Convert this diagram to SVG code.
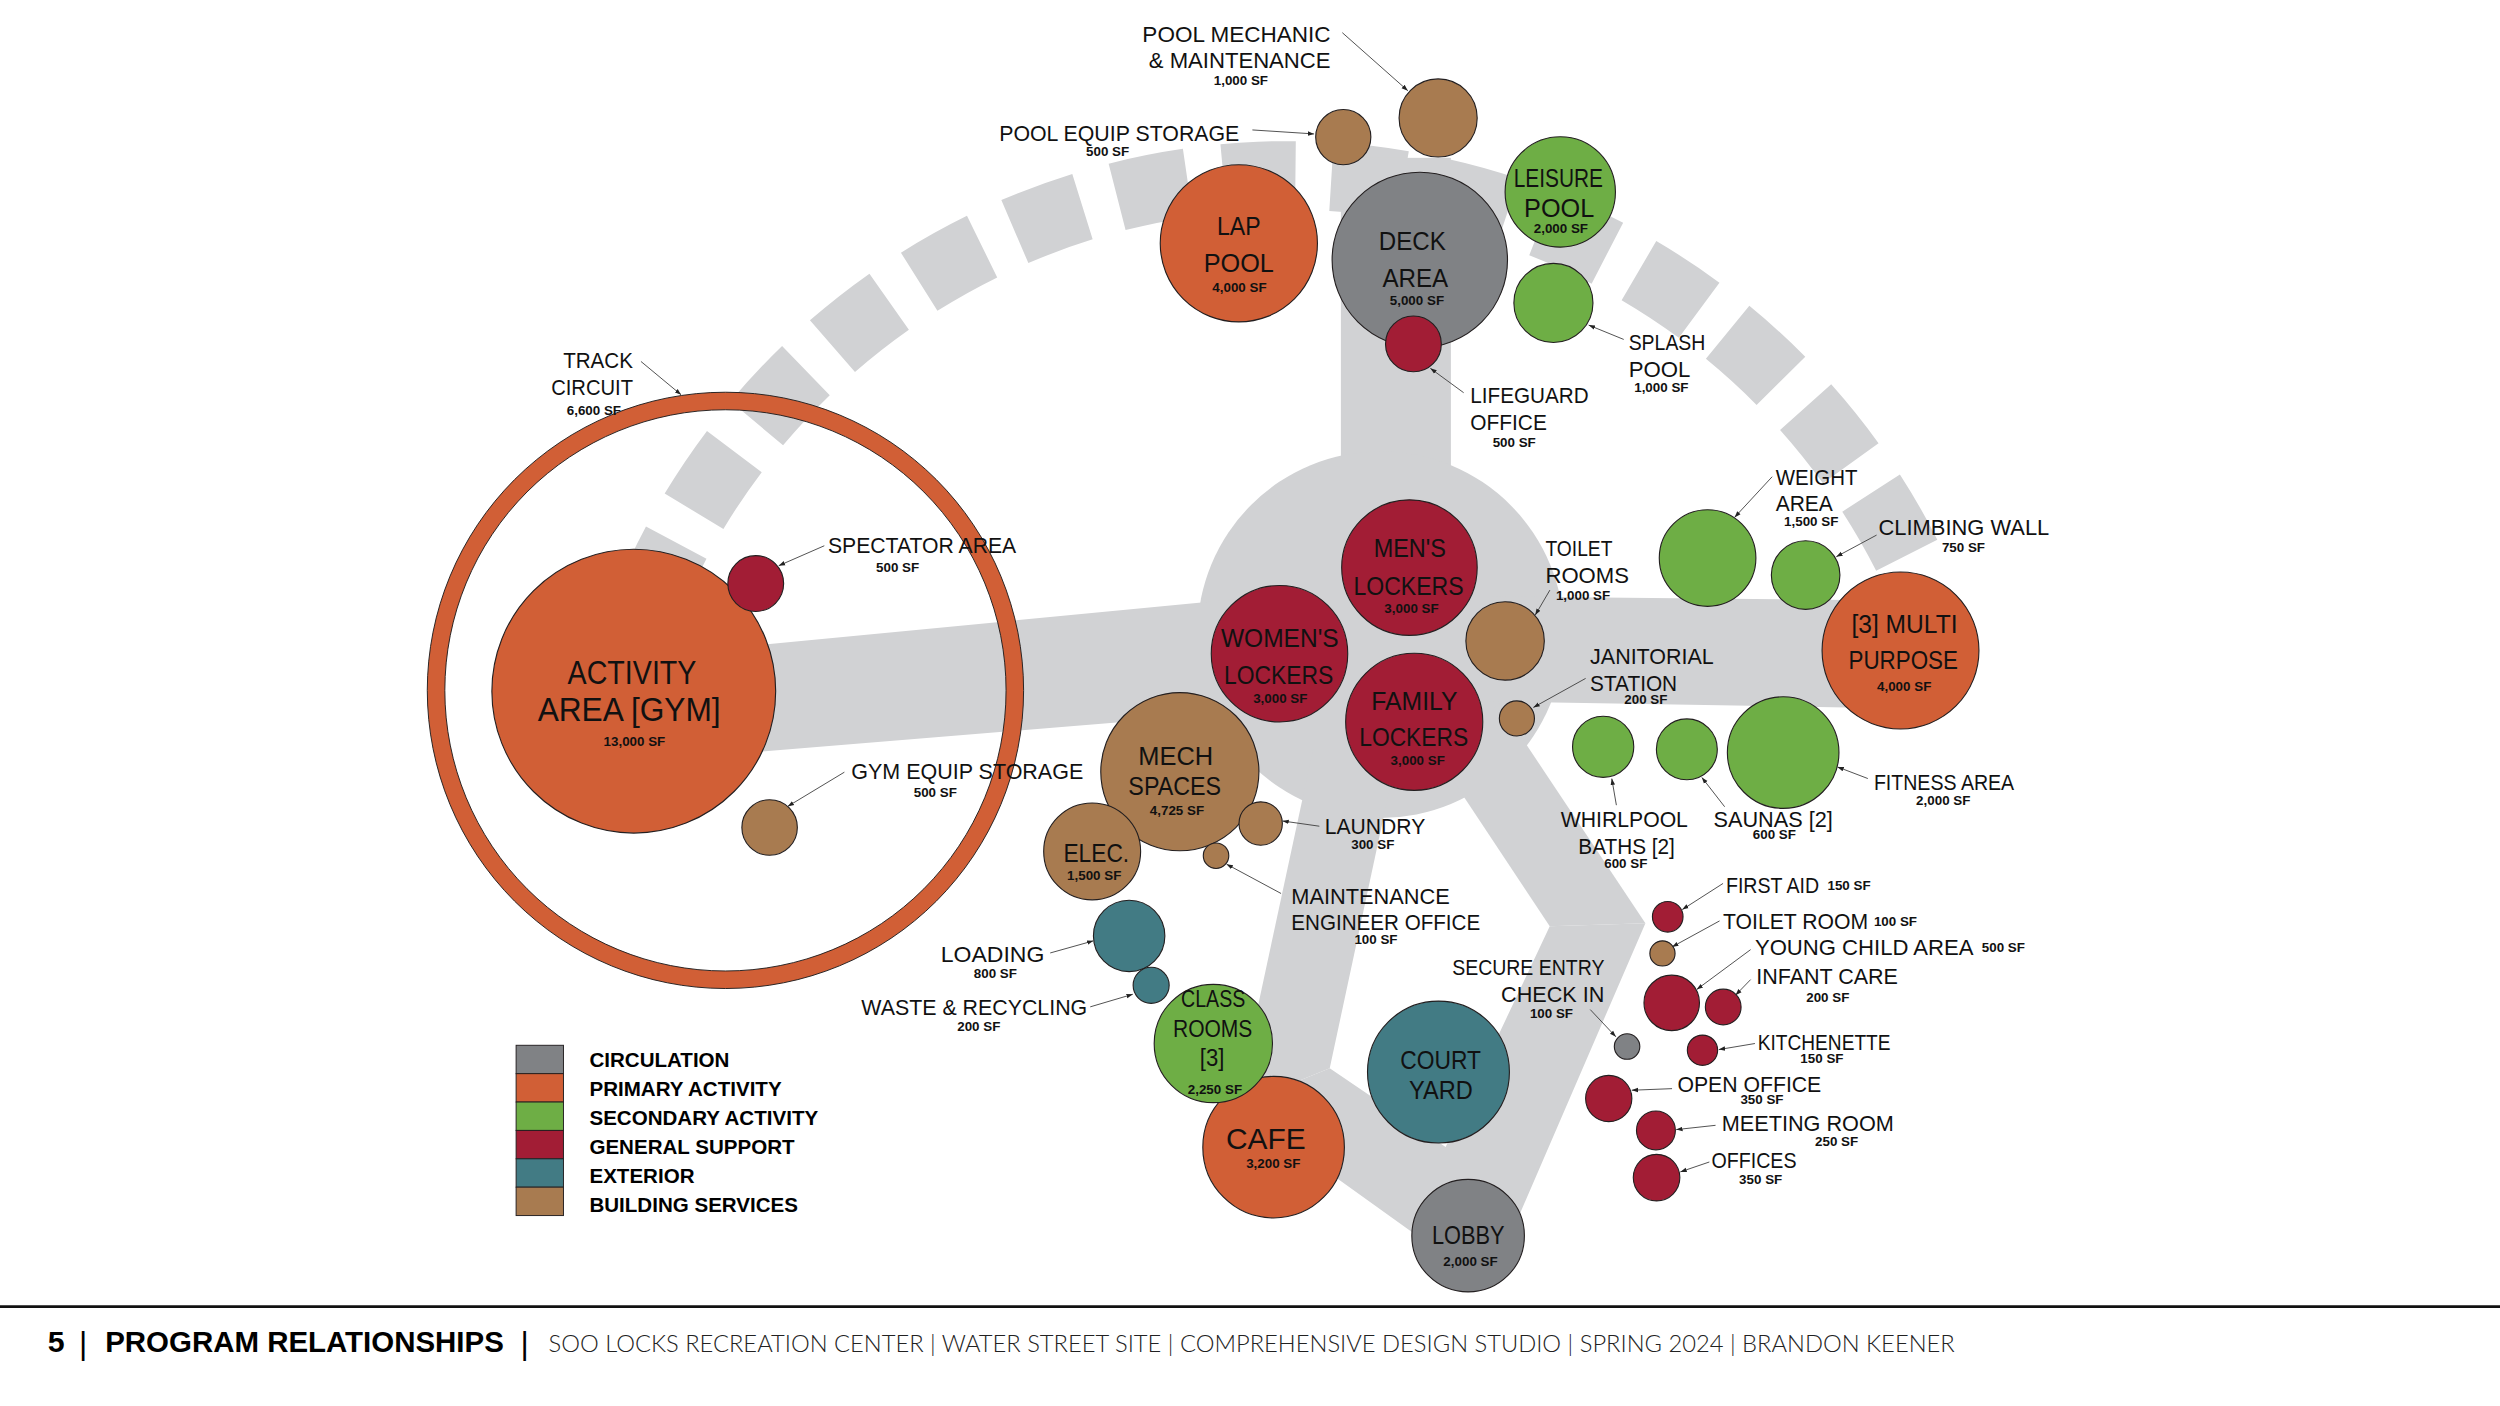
<svg xmlns="http://www.w3.org/2000/svg" width="2500" height="1406" viewBox="0 0 2500 1406">
<style>
.c{stroke:#231f20;stroke-width:0.7}
.circ{fill:#808285}.pri{fill:#d15f36}.sec{fill:#6eae45}.sup{fill:#a21d35}.ext{fill:#427b84}.svc{fill:#a87b50}
.gray{fill:#d1d2d4}
text{font-family:"Liberation Sans",Arial,sans-serif;fill:#111}
.in{font-size:16px;text-anchor:middle}
.sf{font-size:8.4px;font-weight:bold;text-anchor:middle}
.sfs{font-size:8.4px;font-weight:bold}
.lbl{font-size:13.8px}
.m{text-anchor:middle}.e{text-anchor:end}
.ld{stroke:#3a3a3a;stroke-width:0.55;fill:none;marker-end:url(#arr)}
.leg{font-size:12.9px;font-weight:bold;fill:#000}
.sw{stroke:#231f20;stroke-width:0.6}
</style>
<defs>
<marker id="arr" viewBox="0 0 10 10" refX="10" refY="5" markerWidth="4" markerHeight="4" markerUnits="userSpaceOnUse" orient="auto"><path d="M0,1.5 L10,5 L0,8.5 z" fill="#222"/></marker>
</defs>
<rect width="2500" height="1406" fill="#ffffff"/>
<g transform="scale(1.594388)">
<g id="circulation-paths">
<path d="M405 381.2 A435 435 0 0 1 1195.9 348.2" fill="none" stroke="#d1d2d4" stroke-width="43" stroke-dasharray="45.2 22.6"/>
<rect class="gray" x="841" y="99" width="69" height="220"/>
<circle class="gray" cx="866" cy="398" r="115"/>
<polygon class="gray" points="420,410 800,373.4 800,445 420,476"/>
<polygon class="gray" points="935,374 1175,376.5 1175,444 935,440"/>
<polygon class="gray" points="823.6,470 876.9,470 834,670 775.5,693.8"/>
<polygon class="gray" points="905,480 940,441 1032,579 972,581"/>
<polygon class="gray" points="834,670 906.7,719.4 972,581 1032,579 949.5,770 905,786.6 775.5,693.8"/>
</g>
<g id="track-circuit">
<path class="pri" fill-rule="evenodd" stroke="#231f20" stroke-width="0.6" d="M268 433 a187 187 0 1 0 374 0 a187 187 0 1 0 -374 0 Z M279 433 a176 176 0 1 0 352 0 a176 176 0 1 0 -352 0 Z"/>
<text class="lbl e" x="397" y="231.1" textLength="43.8" lengthAdjust="spacingAndGlyphs">TRACK</text>
<text class="lbl e" x="397" y="248" textLength="51.3" lengthAdjust="spacingAndGlyphs">CIRCUIT</text>
<text class="sf" x="372.5" y="260.4">6,600 SF</text>
</g>
<g id="activity-area">
<circle class="c pri" cx="397.5" cy="433.5" r="89"/>
<text class="in" style="font-size:20.5px" x="396.4" y="429.2" textLength="80.8" lengthAdjust="spacingAndGlyphs">ACTIVITY</text>
<text class="in" style="font-size:20.5px" x="394.6" y="452.3" textLength="114.8" lengthAdjust="spacingAndGlyphs">AREA [GYM]</text>
<text class="sf" x="397.9" y="468.2">13,000 SF</text>
</g>
<g id="spectator-area">
<circle class="c sup" cx="474" cy="366" r="17.5"/>
<text class="lbl" x="519.3" y="346.7" textLength="118.1" lengthAdjust="spacingAndGlyphs">SPECTATOR AREA</text>
<text class="sf" x="563" y="358.8">500 SF</text>
</g>
<g id="gym-equip-storage">
<circle class="c svc" cx="482.7" cy="519" r="17.4"/>
<text class="lbl" x="533.9" y="488.7" textLength="145.5" lengthAdjust="spacingAndGlyphs">GYM EQUIP STORAGE</text>
<text class="sf" x="586.6" y="499.7">500 SF</text>
</g>
<g id="lap-pool">
<circle class="c pri" cx="777" cy="152.6" r="49.3"/>
<text class="in" x="777" y="147.4" textLength="27.4" lengthAdjust="spacingAndGlyphs">LAP</text>
<text class="in" x="777" y="170.4" textLength="44" lengthAdjust="spacingAndGlyphs">POOL</text>
<text class="sf" x="777.4" y="183">4,000 SF</text>
</g>
<g id="deck-area">
<circle class="c circ" cx="890.5" cy="163" r="55"/>
<text class="in" x="885.8" y="156.8" textLength="42" lengthAdjust="spacingAndGlyphs">DECK</text>
<text class="in" x="887.7" y="179.8" textLength="41.3" lengthAdjust="spacingAndGlyphs">AREA</text>
<text class="sf" x="888.7" y="191.3">5,000 SF</text>
</g>
<g id="lifeguard-office">
<circle class="c sup" cx="886.5" cy="215.7" r="17.5"/>
<text class="lbl" x="922.2" y="253" textLength="74.2" lengthAdjust="spacingAndGlyphs">LIFEGUARD</text>
<text class="lbl" x="922.2" y="269.8" textLength="48" lengthAdjust="spacingAndGlyphs">OFFICE</text>
<text class="sf" x="949.7" y="280.6">500 SF</text>
</g>
<g id="leisure-pool">
<circle class="c sec" cx="978.6" cy="120.4" r="34.6"/>
<text class="in" x="977.4" y="117.1" textLength="56" lengthAdjust="spacingAndGlyphs">LEISURE</text>
<text class="in" x="977.9" y="135.9" textLength="44" lengthAdjust="spacingAndGlyphs">POOL</text>
<text class="sf" x="979" y="146.4">2,000 SF</text>
</g>
<g id="splash-pool">
<circle class="c sec" cx="974.3" cy="190" r="24.8"/>
<text class="lbl" x="1021.5" y="219.6" textLength="48.1" lengthAdjust="spacingAndGlyphs">SPLASH</text>
<text class="lbl" x="1021.5" y="236.3" textLength="38.7" lengthAdjust="spacingAndGlyphs">POOL</text>
<text class="sf" x="1042" y="245.7">1,000 SF</text>
</g>
<g id="pool-equip-storage">
<circle class="c svc" cx="842.5" cy="86" r="17.3"/>
<text class="lbl m" x="702" y="88.3" textLength="150.6" lengthAdjust="spacingAndGlyphs">POOL EQUIP STORAGE</text>
<text class="sf" x="694.7" y="97.7">500 SF</text>
</g>
<g id="pool-mechanic">
<circle class="c svc" cx="902" cy="74" r="24.5"/>
<text class="lbl e" x="834.5" y="26.1" textLength="118" lengthAdjust="spacingAndGlyphs">POOL MECHANIC</text>
<text class="lbl e" x="834.5" y="42.9" textLength="114" lengthAdjust="spacingAndGlyphs">&amp; MAINTENANCE</text>
<text class="sf" x="778.3" y="53.3">1,000 SF</text>
</g>
<g id="mens-lockers">
<circle class="c sup" cx="884" cy="356" r="42.5"/>
<text class="in" x="884.2" y="349.6" textLength="45.3" lengthAdjust="spacingAndGlyphs">MEN'S</text>
<text class="in" x="883.4" y="373.3" textLength="69.1" lengthAdjust="spacingAndGlyphs">LOCKERS</text>
<text class="sf" x="885.3" y="384.4">3,000 SF</text>
</g>
<g id="womens-lockers">
<circle class="c sup" cx="802.5" cy="410" r="42.8"/>
<text class="in" x="802.7" y="405.7" textLength="73.9" lengthAdjust="spacingAndGlyphs">WOMEN'S</text>
<text class="in" x="802" y="428.7" textLength="68.6" lengthAdjust="spacingAndGlyphs">LOCKERS</text>
<text class="sf" x="803" y="441.2">3,000 SF</text>
</g>
<g id="family-lockers">
<circle class="c sup" cx="887" cy="452.7" r="43"/>
<text class="in" x="887.1" y="445" textLength="54" lengthAdjust="spacingAndGlyphs">FAMILY</text>
<text class="in" x="886.7" y="468" textLength="68.4" lengthAdjust="spacingAndGlyphs">LOCKERS</text>
<text class="sf" x="889.2" y="479.5">3,000 SF</text>
</g>
<g id="toilet-rooms">
<circle class="c svc" cx="944" cy="402" r="24.6"/>
<text class="lbl" x="969.3" y="348.8" textLength="42" lengthAdjust="spacingAndGlyphs">TOILET</text>
<text class="lbl" x="969.3" y="365.5" textLength="52.4" lengthAdjust="spacingAndGlyphs">ROOMS</text>
<text class="sf" x="992.9" y="376.4">1,000 SF</text>
</g>
<g id="janitorial-station">
<circle class="c svc" cx="951.4" cy="450.6" r="11"/>
<text class="lbl" x="997.3" y="416.6" textLength="77.6" lengthAdjust="spacingAndGlyphs">JANITORIAL</text>
<text class="lbl" x="997.3" y="433.3" textLength="54.6" lengthAdjust="spacingAndGlyphs">STATION</text>
<text class="sf" x="1032.3" y="441.7">200 SF</text>
</g>
<g id="weight-area">
<circle class="c sec" cx="1071" cy="350" r="30.3"/>
<text class="lbl" x="1113.7" y="304.3" textLength="51.3" lengthAdjust="spacingAndGlyphs">WEIGHT</text>
<text class="lbl" x="1113.7" y="320.4" textLength="35.9" lengthAdjust="spacingAndGlyphs">AREA</text>
<text class="sf" x="1136" y="330">1,500 SF</text>
</g>
<g id="climbing-wall">
<circle class="c sec" cx="1132.5" cy="360.7" r="21.5"/>
<text class="lbl" x="1178.2" y="335.6" textLength="107.1" lengthAdjust="spacingAndGlyphs">CLIMBING WALL</text>
<text class="sf" x="1231.5" y="346.1">750 SF</text>
</g>
<g id="multi-purpose">
<circle class="c pri" cx="1192" cy="408" r="49.2"/>
<text class="in" x="1194.5" y="397.3" textLength="66.5" lengthAdjust="spacingAndGlyphs">[3] MULTI</text>
<text class="in" x="1193.7" y="419.3" textLength="68.7" lengthAdjust="spacingAndGlyphs">PURPOSE</text>
<text class="sf" x="1194.3" y="433.3">4,000 SF</text>
</g>
<g id="fitness-area">
<circle class="c sec" cx="1118.4" cy="472" r="35"/>
<text class="lbl" x="1175.3" y="495.6" textLength="88" lengthAdjust="spacingAndGlyphs">FITNESS AREA</text>
<text class="sf" x="1218.8" y="505">2,000 SF</text>
</g>
<g id="saunas">
<circle class="c sec" cx="1058" cy="470" r="19.1"/>
<text class="lbl" x="1074.7" y="518.6" textLength="74.8" lengthAdjust="spacingAndGlyphs">SAUNAS [2]</text>
<text class="sf" x="1112.9" y="526.5">600 SF</text>
</g>
<g id="whirlpool-baths">
<circle class="c sec" cx="1005.5" cy="468.4" r="19.2"/>
<text class="lbl m" x="1018.8" y="518.6" textLength="79.7" lengthAdjust="spacingAndGlyphs">WHIRLPOOL</text>
<text class="lbl m" x="1020.2" y="535.8" textLength="60.5" lengthAdjust="spacingAndGlyphs">BATHS [2]</text>
<text class="sf" x="1019.7" y="544.7">600 SF</text>
</g>
<g id="mech-spaces">
<circle class="c svc" cx="740" cy="484" r="49.6"/>
<text class="in" x="737.4" y="479.9" textLength="47" lengthAdjust="spacingAndGlyphs">MECH</text>
<text class="in" x="736.8" y="498.7" textLength="58.2" lengthAdjust="spacingAndGlyphs">SPACES</text>
<text class="sf" x="738.2" y="511.3">4,725 SF</text>
</g>
<g id="laundry">
<circle class="c svc" cx="790.7" cy="516.5" r="13.6"/>
<text class="lbl" x="830.9" y="522.8" textLength="63" lengthAdjust="spacingAndGlyphs">LAUNDRY</text>
<text class="sf" x="861" y="532.2">300 SF</text>
</g>
<g id="maintenance-engineer-office">
<circle class="c svc" cx="762.7" cy="536.7" r="8"/>
<text class="lbl" x="809.9" y="566.7" textLength="99.4" lengthAdjust="spacingAndGlyphs">MAINTENANCE</text>
<text class="lbl" x="809.9" y="583.4" textLength="118.5" lengthAdjust="spacingAndGlyphs">ENGINEER OFFICE</text>
<text class="sf" x="863" y="592.2">100 SF</text>
</g>
<g id="elec">
<circle class="c svc" cx="685" cy="534" r="30.4"/>
<text class="in" x="687.6" y="540.6" textLength="41.2" lengthAdjust="spacingAndGlyphs">ELEC.</text>
<text class="sf" x="686.3" y="552.1">1,500 SF</text>
</g>
<g id="loading">
<circle class="c ext" cx="708.2" cy="587" r="22.4"/>
<text class="lbl e" x="655" y="603.3" textLength="65" lengthAdjust="spacingAndGlyphs">LOADING</text>
<text class="sf" x="624.3" y="613.1">800 SF</text>
</g>
<g id="waste-recycling">
<circle class="c ext" cx="722" cy="618" r="11.3"/>
<text class="lbl e" x="681.9" y="636.8" textLength="141.7" lengthAdjust="spacingAndGlyphs">WASTE &amp; RECYCLING</text>
<text class="sf" x="613.9" y="646.6">200 SF</text>
</g>
<g id="cafe">
<circle class="c pri" cx="798.8" cy="719.5" r="44.4"/>
<text class="in" style="font-size:19px" x="793.9" y="720.7" textLength="50" lengthAdjust="spacingAndGlyphs">CAFE</text>
<text class="sf" x="798.6" y="732.5">3,200 SF</text>
</g>
<g id="class-rooms">
<circle class="c sec" cx="761" cy="654.5" r="37.1"/>
<text class="in" style="font-size:15px" x="760.9" y="631.5" textLength="40.3" lengthAdjust="spacingAndGlyphs">CLASS</text>
<text class="in" style="font-size:15px" x="760.6" y="650.4" textLength="49.8" lengthAdjust="spacingAndGlyphs">ROOMS</text>
<text class="in" style="font-size:15px" x="760.2" y="668.5" textLength="15.4" lengthAdjust="spacingAndGlyphs">[3]</text>
<text class="sf" x="762" y="685.9">2,250 SF</text>
</g>
<g id="court-yard">
<circle class="c ext" cx="902.2" cy="672.4" r="44.5"/>
<text class="in" x="903.6" y="670.2" textLength="50.6" lengthAdjust="spacingAndGlyphs">COURT</text>
<text class="in" x="903.8" y="689.1" textLength="40" lengthAdjust="spacingAndGlyphs">YARD</text>
</g>
<g id="lobby">
<circle class="c circ" cx="920.8" cy="775" r="35.3"/>
<text class="in" x="920.9" y="780.3" textLength="45.6" lengthAdjust="spacingAndGlyphs">LOBBY</text>
<text class="sf" x="922.3" y="794">2,000 SF</text>
</g>
<g id="secure-entry">
<circle class="c circ" cx="1020.5" cy="656.4" r="8"/>
<text class="lbl e" x="1006.3" y="611.7" textLength="95.5" lengthAdjust="spacingAndGlyphs">SECURE ENTRY</text>
<text class="lbl e" x="1006.3" y="628.4" textLength="64.8" lengthAdjust="spacingAndGlyphs">CHECK IN</text>
<text class="sf" x="973.1" y="638.8">100 SF</text>
</g>
<g id="first-aid">
<circle class="c sup" cx="1046" cy="575" r="9.6"/>
<text class="lbl" x="1082.5" y="560" textLength="58.5" lengthAdjust="spacingAndGlyphs">FIRST AID</text>
<text class="sfs" x="1146.2" y="557.9">150 SF</text>
</g>
<g id="toilet-room">
<circle class="c svc" cx="1042.7" cy="598" r="7.9"/>
<text class="lbl" x="1080.7" y="582.4" textLength="91" lengthAdjust="spacingAndGlyphs">TOILET ROOM</text>
<text class="sfs" x="1175.3" y="580.9">100 SF</text>
</g>
<g id="young-child-area">
<circle class="c sup" cx="1048.5" cy="629" r="17.4"/>
<text class="lbl" x="1100.7" y="599.1" textLength="137.1" lengthAdjust="spacingAndGlyphs">YOUNG CHILD AREA</text>
<text class="sfs" x="1243" y="597">500 SF</text>
</g>
<g id="infant-care">
<circle class="c sup" cx="1080.8" cy="631.6" r="11.2"/>
<text class="lbl" x="1101.5" y="617.3" textLength="88.9" lengthAdjust="spacingAndGlyphs">INFANT CARE</text>
<text class="sf" x="1146.4" y="628.4">200 SF</text>
</g>
<g id="kitchenette">
<circle class="c sup" cx="1067.8" cy="658.7" r="9.5"/>
<text class="lbl" x="1102.5" y="658.7" textLength="83.2" lengthAdjust="spacingAndGlyphs">KITCHENETTE</text>
<text class="sf" x="1142.7" y="666.7">150 SF</text>
</g>
<g id="open-office">
<circle class="c sup" cx="1009" cy="689" r="14.5"/>
<text class="lbl" x="1052.1" y="684.9" textLength="90.2" lengthAdjust="spacingAndGlyphs">OPEN OFFICE</text>
<text class="sf" x="1105.1" y="692.6">350 SF</text>
</g>
<g id="meeting-room">
<circle class="c sup" cx="1038.6" cy="709" r="12.2"/>
<text class="lbl" x="1079.9" y="709.3" textLength="107.9" lengthAdjust="spacingAndGlyphs">MEETING ROOM</text>
<text class="sf" x="1151.9" y="719">250 SF</text>
</g>
<g id="offices">
<circle class="c sup" cx="1039" cy="738.6" r="14.6"/>
<text class="lbl" x="1073.4" y="732.3" textLength="53.4" lengthAdjust="spacingAndGlyphs">OFFICES</text>
<text class="sf" x="1104.3" y="742.4">350 SF</text>
</g>
<g id="connectors">
<line class="ld" x1="841.9" y1="20.5" x2="883" y2="56.9"/>
<line class="ld" x1="785.5" y1="81.5" x2="824.2" y2="84"/>
<line class="ld" x1="402" y1="226.7" x2="427.2" y2="247.6"/>
<line class="ld" x1="517" y1="342.3" x2="488.4" y2="354.8"/>
<line class="ld" x1="529.6" y1="484.3" x2="494" y2="505.8"/>
<line class="ld" x1="1018.4" y1="212.9" x2="996.4" y2="203.9"/>
<line class="ld" x1="918" y1="246.3" x2="897.1" y2="231"/>
<line class="ld" x1="1111.5" y1="299" x2="1087.9" y2="324.5"/>
<line class="ld" x1="1177" y1="335.6" x2="1151.7" y2="349.2"/>
<line class="ld" x1="1171.5" y1="488.3" x2="1152.4" y2="481"/>
<line class="ld" x1="1081.7" y1="506" x2="1067.4" y2="487.6"/>
<line class="ld" x1="1013.8" y1="505" x2="1010.9" y2="488.3"/>
<line class="ld" x1="972.1" y1="370.1" x2="962.9" y2="385.8"/>
<line class="ld" x1="994.5" y1="425.5" x2="961.7" y2="443.7"/>
<line class="ld" x1="827.5" y1="518.2" x2="804.3" y2="514.9"/>
<line class="ld" x1="803.5" y1="560.4" x2="769.3" y2="542"/>
<line class="ld" x1="658.7" y1="597.7" x2="685.8" y2="590.1"/>
<line class="ld" x1="683.8" y1="631.5" x2="710.5" y2="623.6"/>
<line class="ld" x1="997.4" y1="633.2" x2="1013.5" y2="650.3"/>
<line class="ld" x1="1080.7" y1="554.1" x2="1055.1" y2="570.5"/>
<line class="ld" x1="1078.5" y1="577.6" x2="1048.7" y2="593.9"/>
<line class="ld" x1="1098" y1="595.6" x2="1064.2" y2="620.6"/>
<line class="ld" x1="1098" y1="614.4" x2="1088.5" y2="624.2"/>
<line class="ld" x1="1100.7" y1="654.5" x2="1078" y2="658.3"/>
<line class="ld" x1="1048.7" y1="682.8" x2="1023.4" y2="683.8"/>
<line class="ld" x1="1076" y1="705.8" x2="1051.3" y2="708.5"/>
<line class="ld" x1="1072.1" y1="728.8" x2="1053.9" y2="735"/>
</g>
<g id="legend">
<rect class="sw circ" x="323.7" y="655.6" width="29.7" height="17.8"/>
<rect class="sw pri" x="323.7" y="673.4" width="29.7" height="17.8"/>
<rect class="sw sec" x="323.7" y="691.2" width="29.7" height="17.8"/>
<rect class="sw sup" x="323.7" y="709" width="29.7" height="17.8"/>
<rect class="sw ext" x="323.7" y="726.8" width="29.7" height="17.8"/>
<rect class="sw svc" x="323.7" y="744.6" width="29.7" height="17.8"/>
<text class="leg" x="369.7" y="669.2">CIRCULATION</text>
<text class="leg" x="369.7" y="687.4">PRIMARY ACTIVITY</text>
<text class="leg" x="369.7" y="705.6">SECONDARY ACTIVITY</text>
<text class="leg" x="369.7" y="723.8">GENERAL SUPPORT</text>
<text class="leg" x="369.7" y="742">EXTERIOR</text>
<text class="leg" x="369.7" y="760.2">BUILDING SERVICES</text>
</g>
<g id="footer">
<line x1="0" y1="819.5" x2="1568" y2="819.5" stroke="#111" stroke-width="1.6"/>
<text x="30" y="848" style="font-size:19px;font-weight:bold;fill:#000">5</text>
<text x="49.5" y="849" style="font-size:20px;fill:#000">|</text>
<text x="66" y="848" textLength="250" lengthAdjust="spacingAndGlyphs" style="font-size:18.2px;font-weight:bold;fill:#000">PROGRAM RELATIONSHIPS</text>
<text x="326.5" y="849" style="font-size:20px;fill:#000">|</text>
<text x="344" y="848" textLength="882" lengthAdjust="spacingAndGlyphs" style="font-family:Lato,'Liberation Sans',sans-serif;font-weight:300;font-size:15px;fill:#222">SOO LOCKS RECREATION CENTER | WATER STREET SITE | COMPREHENSIVE DESIGN STUDIO | SPRING 2024 | BRANDON KEENER</text>
</g>
</g>
</svg>
